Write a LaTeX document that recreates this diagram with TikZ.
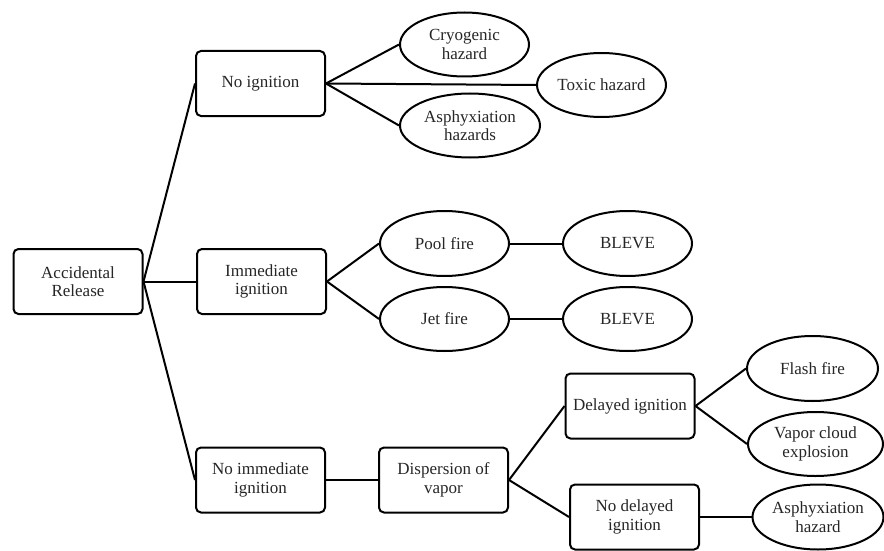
\documentclass[tikz,border=0pt]{standalone}
\usepackage{fontspec}
\setmainfont{Liberation Serif}
\usetikzlibrary{shapes.geometric}
\begin{document}
\begin{tikzpicture}[x=1pt,y=-1pt,
  every node/.style={font=\rmfamily\fontsize{17}{18.5}\selectfont, text=black!85, align=center, inner sep=0pt},
  box/.style={draw=black, line width=2pt, rounded corners=5pt, minimum width=129pt, minimum height=65pt},
  oval/.style={draw=black, line width=2pt, ellipse, minimum width=129pt, minimum height=64pt},
  link/.style={line width=2pt}]
\useasboundingbox (0,0) rectangle (884,551);
% boxes
\node[box] (ar) at (78,281.5) {Accidental\\Release};
\node[box] (ni) at (260.5,83.5) {No ignition};
\node[box] (ii) at (261.5,281.5) {Immediate\\ignition};
\node[box] (nii) at (260.5,480) {No immediate\\ignition};
\node[box] (dv) at (443.5,480) {Dispersion of\\vapor};
\node[box] (di) at (630,406) {Delayed ignition};
\node[box] (ndi) at (634.5,517) {No delayed\\ignition};
% ellipses
\node[oval] (cry) at (464.5,44.5) {Cryogenic\\hazard};
\node[oval] (tox) at (601.5,85) {Toxic hazard};
\node[oval, minimum width=140pt] (asp) at (470,125.5) {Asphyxiation\\hazards};
\node[oval, minimum height=65pt] (pool) at (444.5,243.5) {Pool fire};
\node[oval] (jet) at (444.5,319) {Jet fire};
\node[oval, minimum height=65pt] (bl1) at (627.5,243.5) {BLEVE};
\node[oval] (bl2) at (627.5,319) {BLEVE};
\node[oval, minimum width=131pt, minimum height=65pt] (ff) at (812.5,368.5) {Flash fire};
\node[oval, minimum width=135pt] (vce) at (815.5,444) {Vapor cloud\\explosion};
\node[oval, minimum width=131pt, minimum height=65pt] (ah) at (818,517) {Asphyxiation\\hazard};
% connectors
\draw[link] (ar.east) -- (ni.west);
\draw[link] (ar.east) -- (ii.west);
\draw[link] (ar.east) -- (nii.west);
\draw[link] (ni.east) -- (cry.west);
\draw[link] (ni.east) -- (tox.west);
\draw[link] (ni.east) -- (asp.west);
\draw[link] (ii.east) -- (pool.west);
\draw[link] (ii.east) -- (jet.west);
\draw[link] (pool.east) -- (bl1.west);
\draw[link] (jet.east) -- (bl2.west);
\draw[link] (nii.east) -- (dv.west);
\draw[link] (dv.east) -- (di.west);
\draw[link] (dv.east) -- (ndi.west);
\draw[link] (di.east) -- (ff.west);
\draw[link] (di.east) -- (vce.west);
\draw[link] (ndi.east) -- (ah.west);
\end{tikzpicture}
\end{document}
